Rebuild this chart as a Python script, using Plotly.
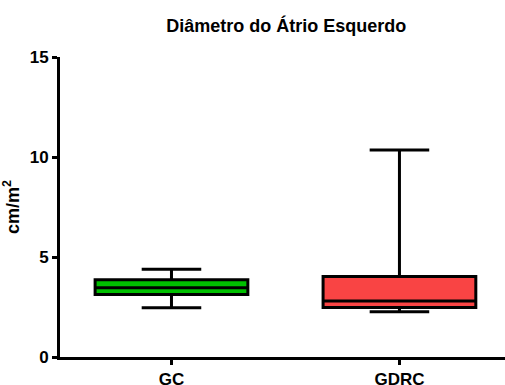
import plotly.graph_objects as go

categories = ["GC", "GDRC"]
lower_whisker = [2.46, 2.26]
q1_values = [3.13, 2.48]
median_values = [3.46, 2.80]
q3_values = [3.86, 4.03]
upper_whisker = [4.39, 10.35]
fill_colors = ["#00C000", "#F94444"]
y_ticks = [0, 5, 10, 15]

FONT = "Liberation Sans, Arial, sans-serif"

fig = go.Figure()
for i, cat in enumerate(categories):
    fig.add_trace(go.Box(
        x=[cat],
        q1=[q1_values[i]],
        median=[median_values[i]],
        q3=[q3_values[i]],
        lowerfence=[lower_whisker[i]],
        upperfence=[upper_whisker[i]],
        fillcolor=fill_colors[i],
        line=dict(color="black", width=3),
        width=0.67,
        whiskerwidth=0.39,
        boxpoints=False,
        showlegend=False,
        hoverinfo="skip",
    ))

fig.update_layout(
    width=505, height=385,
    margin=dict(l=60, r=0, t=57, b=28),
    plot_bgcolor="white", paper_bgcolor="white",
    title=dict(text="Diâmetro do Átrio Esquerdo", x=0.567, xanchor="center",
               y=1 - 26/385, yanchor="middle",
               font=dict(family=FONT, size=18, color="black", weight="bold")),
    showlegend=False,
)
fig.update_xaxes(
    type="category", range=[-0.489, 1.463],
    showline=True, linewidth=3, linecolor="black",
    ticks="outside", ticklen=5, tickwidth=3, tickcolor="black",
    tickfont=dict(family=FONT, size=17, color="black", weight="bold"),
    ticklabelstandoff=0,
    showgrid=False, zeroline=False, automargin=False,
)
fig.update_yaxes(
    range=[0, 15], tickvals=y_ticks,
    showline=True, linewidth=3, linecolor="black",
    ticks="outside", ticklen=5, tickwidth=3, tickcolor="black",
    tickfont=dict(family=FONT, size=17, color="black", weight="bold"),
    title=dict(text="cm/m<sup>2</sup>", standoff=12,
               font=dict(family=FONT, size=18, color="black", weight="bold")),
    showgrid=False, zeroline=False, automargin=False,
)

fig.write_html("out.html")
